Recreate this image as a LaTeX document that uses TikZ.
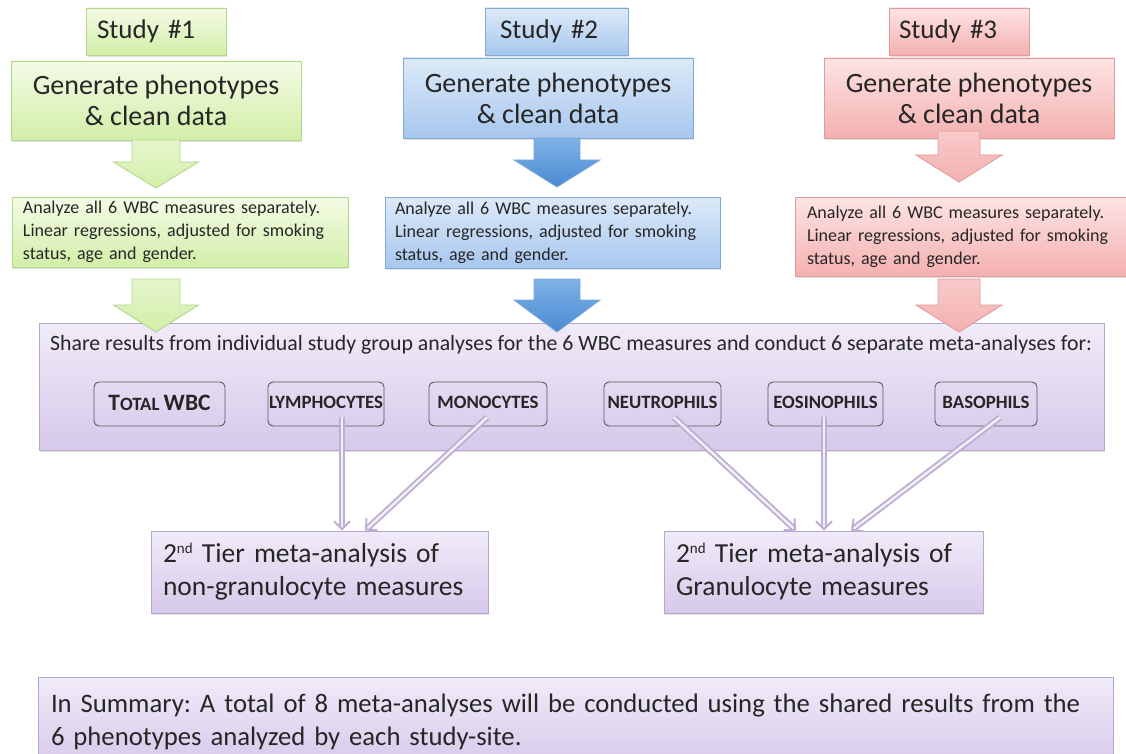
\documentclass[tikz,border=0pt]{standalone}
\usepackage{fontspec}
\setmainfont{Carlito}
\frenchspacing
\usetikzlibrary{shadows,arrows.meta,calc}
\definecolor{gtop}{HTML}{F4FBE6}
\definecolor{gbot}{HTML}{D2EEA8}
\definecolor{gline}{HTML}{B2D68A}
\definecolor{btop}{HTML}{DDEAF8}
\definecolor{bbot}{HTML}{A7C7EE}
\definecolor{bline}{HTML}{80A9DA}
\definecolor{rtop}{HTML}{FDE4E4}
\definecolor{rbot}{HTML}{F4B0B0}
\definecolor{rline}{HTML}{E29A9A}
\definecolor{ptop}{HTML}{F0EBF8}
\definecolor{pbot}{HTML}{D6C9EA}
\definecolor{pline}{HTML}{B6A6D2}
\definecolor{barrtop}{HTML}{7FB3E6}
\definecolor{barrbot}{HTML}{4A89D2}
\definecolor{conncol}{HTML}{BDAED3}
\definecolor{txt}{HTML}{262626}
\newcommand{\blockarr}[7]{\draw[#1] (#2-#6,#3) -- (#2+#6,#3) -- (#2+#6,#4) -- (#2+#7,#4) -- (#2,#5) -- (#2-#7,#4) -- (#2-#6,#4) -- cycle;}
\newcommand{\nd}{{\fontsize{15}{15}\selectfont\raisebox{9pt}{nd}}}
\tikzset{
  shbox/.style={draw, line width=0.9pt, inner sep=0pt, text=txt,
    drop shadow={shadow xshift=1.2pt, shadow yshift=-1.6pt, opacity=0.22}},
  greenbox/.style={shbox, draw=gline, top color=gtop, bottom color=gbot},
  bluebox/.style={shbox, draw=bline, top color=btop, bottom color=bbot},
  redbox/.style={shbox, draw=rline, top color=rtop, bottom color=rbot},
  purplebox/.style={shbox, draw=pline, top color=ptop, bottom color=pbot},
  studyfont/.style={align=left, font=\fontsize{27}{30}\selectfont},
  genfont/.style={align=center, text depth=-9pt, font=\fontsize{28}{31}\selectfont},
  anafont/.style={align=left, font=\fontsize{18}{23}\selectfont},
  tierfont/.style={align=left, font=\fontsize{27.5}{33}\selectfont},
  garr/.style={draw=gline, line width=0.9pt, top color=gtop!60!gbot, bottom color=gbot},
  barr/.style={draw=bline, line width=0.9pt, top color=barrtop, bottom color=barrbot},
  rarr/.style={draw=rline, line width=0.9pt, top color=rtop!50!rbot, bottom color=rbot},
  lbl/.style={draw=black!65, rounded corners=5pt, line width=0.9pt, minimum height=44pt,
    inner sep=0pt, text depth=3pt, text=txt, font=\bfseries\fontsize{18.8}{19}\selectfont},
  conn/.style={draw=conncol, double=white!80!conncol, double distance=2.4pt, line width=1.9pt,
    -{Straight Barb[length=8pt,width=16pt]}},
}
\begin{document}
\begin{tikzpicture}[x=1pt,y=-1pt]
\useasboundingbox (0,0) rectangle (1126,754);
\fill[white] (0,0) rectangle (1126,754);
\clip (0,0) rectangle (1126,754);

% study 1
\node[greenbox, studyfont, minimum width=140pt, minimum height=47pt, text width=118pt] (s1) at (156,31.5) {Study \#1};
\node[greenbox, genfont, minimum width=290pt, minimum height=79pt] (g1) at (156,100.5) {Generate phenotypes\\\& clean data};
\node[greenbox, anafont, minimum width=336pt, minimum height=70pt, text width=314pt] (a1) at (180,232) {Analyze all 6 WBC measures separately.\\Linear regressions, adjusted for smoking\\status, age and gender.};
% study 2
\node[bluebox, studyfont, minimum width=143pt, minimum height=47pt, text width=113pt] (s2) at (556.5,31.5) {Study \#2};
\node[bluebox, genfont, minimum width=290pt, minimum height=80pt] (g2) at (548,98) {Generate phenotypes\\\& clean data};
\node[bluebox, anafont, minimum width=335pt, minimum height=71pt, text width=315pt] (a2) at (552.5,232.5) {Analyze all 6 WBC measures separately.\\Linear regressions, adjusted for smoking\\status, age and gender.};
% study 3
\node[redbox, studyfont, minimum width=140pt, minimum height=47pt, text width=120pt] (s3) at (959,31.5) {Study \#3};
\node[redbox, genfont, minimum width=290pt, minimum height=80pt] (g3) at (969,98) {Generate phenotypes\\\& clean data};
\node[redbox, anafont, minimum width=331pt, minimum height=79pt, text width=307pt] (a3) at (960.5,236.5) {Analyze all 6 WBC measures separately.\\Linear regressions, adjusted for smoking\\status, age and gender.};

% shared box
\node[purplebox, minimum width=1065pt, minimum height=127pt] (P) at (571.5,386.5) {};
\node[anchor=base west, inner sep=0pt, text=txt, font=\fontsize{21.8}{24}\selectfont] (hdr) at (50,350) {Share results from individual study group analyses for the 6 WBC measures and conduct 6 separate meta-analyses for:};

% block arrows
\blockarr{garr}{156}{140}{162}{188}{24}{42.5}
\blockarr{garr}{156}{279}{305}{332}{24}{42.5}
\blockarr{barr}{557}{138}{160}{187}{23}{43}
\blockarr{barr}{557}{279}{300}{332}{23}{43}
\blockarr{rarr}{959}{131}{155}{182}{21}{43}
\blockarr{rarr}{959}{279}{305}{332}{21}{43}

% measure labels
\node[lbl, minimum width=131pt] (TW) at (159.5,404) {{\fontsize{23.5}{23}\selectfont T}OTAL {\fontsize{23.5}{23}\selectfont WBC}};
\node[lbl, minimum width=116pt] (LY) at (326,404) {LYMPHOCYTES};
\node[lbl, minimum width=118pt] (MO) at (488,404) {MONOCYTES};
\node[lbl, minimum width=117pt] (NE) at (662.5,404) {NEUTROPHILS};
\node[lbl, minimum width=115pt] (EO) at (825.5,404) {EOSINOPHILS};
\node[lbl, minimum width=102pt] (BA) at (986,404) {BASOPHILS};

% second tier boxes
\node[purplebox, tierfont, minimum width=337pt, minimum height=82pt, text width=313pt] (B1) at (319.5,572) {2\nd{} Tier meta-analysis of\\non-granulocyte measures};
\node[purplebox, tierfont, minimum width=319pt, minimum height=82pt, text width=295pt] (B2) at (823.5,572) {2\nd{} Tier meta-analysis of\\Granulocyte measures};

% connectors
\draw[conn] ($(LY.south)+(16,-9)$) -- ($(B1.north)+(22.5,0)$);
\draw[conn] ($(MO.south)+(-1,-9)$) -- ($(B1.north)+(45.5,0)$);
\draw[conn] ($(NE.south)+(11.5,-9)$) -- ($(B2.north)+(-27.5,0)$);
\draw[conn] ($(EO.south)+(-1.5,-9)$) -- ($(B2.north)+(0.5,0)$);
\draw[conn] ($(BA.south)+(14,-9)$) -- ($(B2.north)+(27.5,0)$);

% summary
\node[purplebox, minimum width=1075pt, minimum height=90pt, text width=1049pt, align=left, font=\fontsize{26.7}{33}\selectfont] (S) at (575.5,722) {In Summary: A total of 8 meta-analyses will be conducted using the shared results from the\\6 phenotypes analyzed by each study-site.};
\end{tikzpicture}
\end{document}
